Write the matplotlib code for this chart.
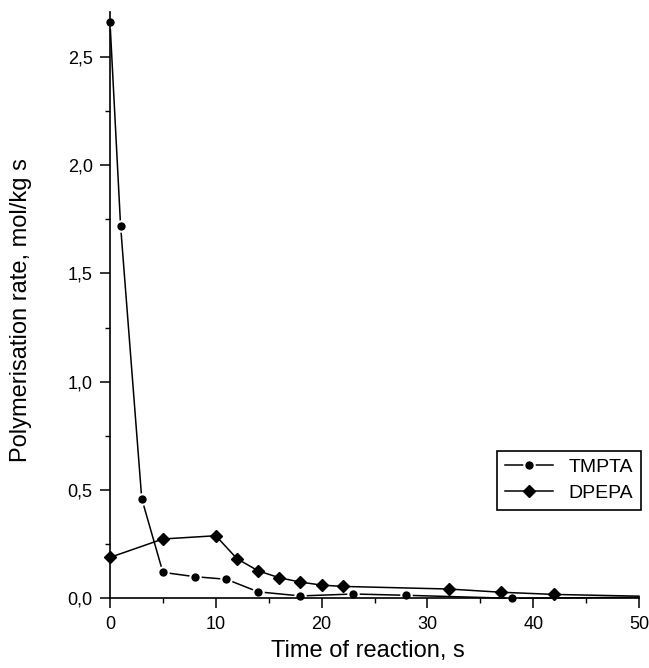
import matplotlib
matplotlib.use("Agg")
import matplotlib.pyplot as plt
from matplotlib.ticker import MultipleLocator, FuncFormatter

# TMPTA (circles)
tmpta_t = [0, 1, 3, 5, 8, 11, 14, 18, 23, 28, 38, 50]
tmpta_r = [2.66, 1.72, 0.46, 0.12, 0.10, 0.088, 0.03, 0.011, 0.02, 0.014, 0.0, 0.005]

# DPEPA (diamonds)
dpepa_t = [0, 5, 10, 12, 14, 16, 18, 20, 22, 32, 37, 42, 50]
dpepa_r = [0.189, 0.274, 0.289, 0.183, 0.127, 0.095, 0.075, 0.061, 0.055, 0.043, 0.028, 0.018, 0.01]

plt.rcParams["font.family"] = ["Liberation Sans", "DejaVu Sans"]

fig = plt.figure(figsize=(6.49, 6.68), dpi=100)
ax = fig.add_axes([0.1695, 0.1043, 0.8151, 0.8777])

ax.plot(tmpta_t, tmpta_r, color="black", lw=1.1, marker="o", markersize=7.5,
        markerfacecolor="black", markeredgecolor="white", markeredgewidth=1.5,
        markevery=list(range(len(tmpta_t) - 1)), clip_on=False, label="TMPTA")
ax.plot(dpepa_t, dpepa_r, color="black", lw=1.1, marker="D", markersize=6.5,
        markerfacecolor="black", markeredgecolor="black",
        markevery=list(range(len(dpepa_t) - 1)), clip_on=False, label="DPEPA")

ax.set_xlim(0, 50)
ax.set_ylim(0, 2.707)
for s in ["top", "right"]:
    ax.spines[s].set_visible(False)
for s in ["left", "bottom"]:
    ax.spines[s].set_linewidth(1.2)

ax.xaxis.set_major_locator(MultipleLocator(10))
ax.xaxis.set_minor_locator(MultipleLocator(5))
ax.yaxis.set_major_locator(MultipleLocator(0.5))
ax.yaxis.set_minor_locator(MultipleLocator(0.25))
ax.yaxis.set_major_formatter(FuncFormatter(lambda v, p: f"{v:.1f}".replace(".", ",")))
ax.tick_params(which="major", direction="out", length=7.5, width=1.1, pad=5, labelsize=13)
ax.tick_params(which="minor", direction="out", length=3.5, width=1.0)

ax.set_xlabel("Time of reaction, s", fontsize=17, va="top")
ax.set_ylabel("Polymerisation rate, mol/kg s", fontsize=17)
ax.xaxis.set_label_coords(0.488, -0.071)
ax.yaxis.set_label_coords(-0.147, 0.492)

leg = ax.legend(loc="lower right", bbox_to_anchor=(1.004, 0.1506), fontsize=14,
                frameon=True, fancybox=False, edgecolor="black", framealpha=1,
                handlelength=2.5, handletextpad=0.8, borderpad=0.4,
                labelspacing=0.45, borderaxespad=0)
leg.get_frame().set_linewidth(1.2)

fig.savefig("out.png", dpi=100)
